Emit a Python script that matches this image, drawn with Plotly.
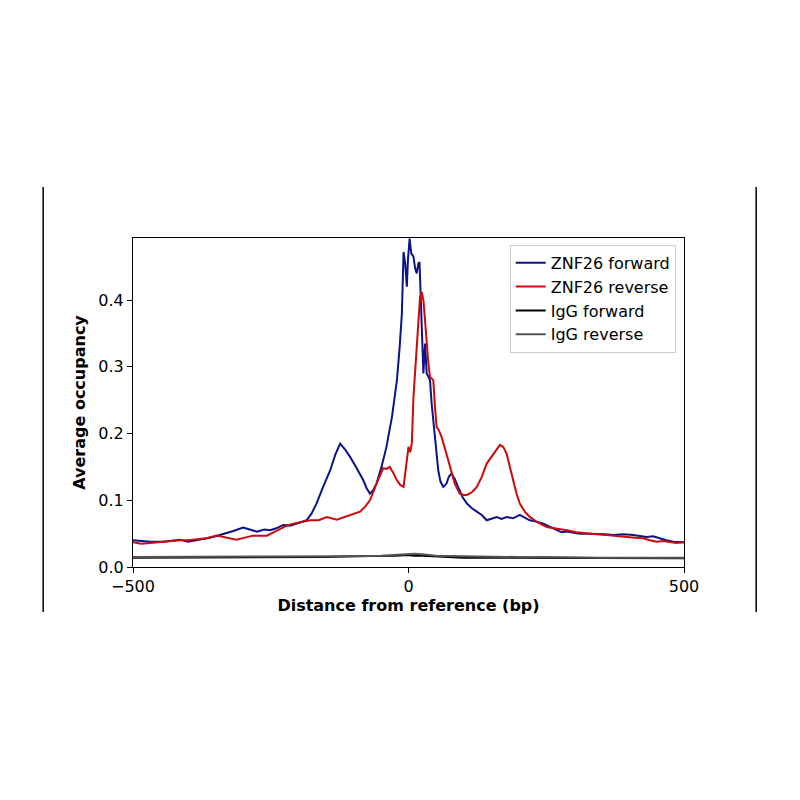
import plotly.graph_objects as go

# ZNF26 forward (blue)
fwd_x = [-500, -485, -469, -445, -430, -415, -400, -384, -366, -350, -336, -318, -300, -288,
         -275, -262, -251, -240, -227, -215, -203, -195, -185, -176, -167, -155, -142, -133,
         -124, -115, -106, -94, -82, -76, -70, -64, -58, -49, -40, -30, -21, -16, -12, -9,
         -6, -3, -1, 2, 5, 9, 12, 15, 18, 20, 22, 24, 27, 30, 33, 36, 39, 42, 45, 48, 51,
         54, 58, 63, 69, 73, 78, 84, 90, 98, 106, 115, 124, 133, 142, 151, 160, 169, 178,
         190, 202, 211, 220, 232, 245, 257, 269, 278, 287, 299, 311, 326, 342, 357, 372,
         390, 408, 420, 432, 444, 456, 468, 481, 490, 500]
fwd_y = [0.040, 0.039, 0.038, 0.038, 0.040, 0.041, 0.038, 0.040, 0.043, 0.046, 0.049, 0.054,
         0.059, 0.056, 0.053, 0.056, 0.055, 0.058, 0.063, 0.062, 0.065, 0.068, 0.070, 0.080,
         0.095, 0.120, 0.145, 0.168, 0.185, 0.176, 0.165, 0.148, 0.130, 0.118, 0.110, 0.115,
         0.125, 0.150, 0.180, 0.225, 0.280, 0.330, 0.380, 0.472, 0.455, 0.420, 0.460, 0.492,
         0.470, 0.465, 0.448, 0.440, 0.455, 0.457, 0.410, 0.375, 0.290, 0.335, 0.290, 0.285,
         0.280, 0.245, 0.220, 0.195, 0.170, 0.145, 0.128, 0.120, 0.125, 0.135, 0.140, 0.132,
         0.120, 0.105, 0.095, 0.088, 0.083, 0.078, 0.070, 0.072, 0.075, 0.072, 0.075, 0.073,
         0.078, 0.074, 0.070, 0.068, 0.065, 0.060, 0.055, 0.052, 0.053, 0.051, 0.050, 0.050,
         0.050, 0.049, 0.048, 0.049, 0.048, 0.046, 0.045, 0.046, 0.043, 0.040, 0.038, 0.037,
         0.037]

# ZNF26 reverse (red)
rev_x = [-500, -485, -469, -445, -430, -415, -400, -384, -366, -348, -330, -312, -297, -282,
         -270, -257, -245, -233, -221, -209, -195, -178, -163, -148, -130, -112, -100, -88,
         -79, -70, -58, -46, -40, -34, -27, -21, -15, -9, -6, -3, 0, 3, 6, 9, 12, 15, 18,
         21, 24, 27, 30, 33, 36, 39, 42, 45, 48, 51, 55, 60, 67, 75, 84, 93, 100, 106, 115,
         124, 133, 142, 154, 166, 172, 178, 184, 190, 196, 202, 211, 220, 236, 251, 269,
         287, 305, 323, 341, 360, 378, 396, 411, 426, 438, 450, 462, 474, 486, 500]
rev_y = [0.037, 0.035, 0.036, 0.038, 0.039, 0.040, 0.040, 0.041, 0.043, 0.047, 0.044, 0.041,
         0.044, 0.047, 0.047, 0.047, 0.052, 0.057, 0.062, 0.065, 0.067, 0.070, 0.070, 0.075,
         0.071, 0.076, 0.079, 0.083, 0.090, 0.100, 0.125, 0.148, 0.147, 0.150, 0.140, 0.130,
         0.123, 0.120, 0.140, 0.160, 0.180, 0.172, 0.185, 0.255, 0.295, 0.330, 0.370, 0.405,
         0.412, 0.400, 0.370, 0.335, 0.305, 0.285, 0.283, 0.280, 0.240, 0.210, 0.205, 0.195,
         0.175, 0.150, 0.125, 0.110, 0.108, 0.108, 0.112, 0.120, 0.135, 0.155, 0.170, 0.183,
         0.180, 0.170, 0.150, 0.130, 0.110, 0.095, 0.083, 0.075, 0.066, 0.060, 0.058, 0.055,
         0.052, 0.050, 0.049, 0.048, 0.047, 0.045, 0.044, 0.043, 0.040, 0.038, 0.039, 0.038,
         0.036, 0.037]

# IgG controls
igg_x = [-500, -450, -400, -350, -300, -250, -200, -150, -100, -50, -25, 0, 10, 25, 50,
         100, 150, 200, 250, 300, 350, 400, 450, 500]
igg_fwd_y = [0.014, 0.014, 0.014, 0.014, 0.014, 0.014, 0.015, 0.015, 0.016, 0.016, 0.017,
             0.018, 0.017, 0.017, 0.016, 0.014, 0.014, 0.014, 0.014, 0.013, 0.013, 0.013,
             0.013, 0.013]
igg_rev_y = [0.015, 0.015, 0.015, 0.015, 0.015, 0.015, 0.015, 0.016, 0.016, 0.017, 0.018,
             0.019, 0.020, 0.019, 0.017, 0.016, 0.015, 0.015, 0.015, 0.014, 0.014, 0.014,
             0.014, 0.014]

fig = go.Figure()
fig.add_trace(go.Scatter(x=fwd_x, y=fwd_y, mode='lines', name='ZNF26 forward',
                         line=dict(color='#0a1488', width=2)))
fig.add_trace(go.Scatter(x=rev_x, y=rev_y, mode='lines', name='ZNF26 reverse',
                         line=dict(color='#cc0a0a', width=2)))
fig.add_trace(go.Scatter(x=igg_x, y=igg_fwd_y, mode='lines', name='IgG forward',
                         line=dict(color='black', width=2)))
fig.add_trace(go.Scatter(x=igg_x, y=igg_rev_y, mode='lines', name='IgG reverse',
                         line=dict(color='#555555', width=2)))

axis_common = dict(showline=True, linecolor='black', linewidth=1.2, mirror=True,
                   showgrid=False, zeroline=False, ticks='outside', ticklen=5,
                   tickcolor='black', tickfont=dict(size=16, color='black'))

fig.update_layout(
    width=800, height=800,
    margin=dict(l=125, r=124, t=230, b=241),
    paper_bgcolor='white', plot_bgcolor='white',
    font=dict(family='DejaVu Sans', color='black'),
    xaxis=dict(range=[-500, 500], tickvals=[-500, 0, 500],
               title=dict(text='<b>Distance from reference (bp)</b>', font=dict(size=16),
                          standoff=4),
               **axis_common),
    yaxis=dict(range=[0, 0.493], tickvals=[0, 0.1, 0.2, 0.3, 0.4], tickformat='.1f',
               title=dict(text='<b>Average occupancy</b>', font=dict(size=16), standoff=8),
               **axis_common),
    legend=dict(x=0.985, y=0.979, xanchor='right', yanchor='top', itemwidth=30,
                bgcolor='rgba(255,255,255,0.8)', bordercolor='#cccccc', borderwidth=1,
                font=dict(size=16)),
    showlegend=True,
    shapes=[
        dict(type='line', xref='paper', yref='paper', x0=-0.163, x1=-0.163, y0=-0.137,
             y1=1.155, line=dict(color='black', width=1.5)),
        dict(type='line', xref='paper', yref='paper', x0=1.131, x1=1.131, y0=-0.137,
             y1=1.155, line=dict(color='black', width=1.5)),
    ],
)

fig.write_html("out.html")
